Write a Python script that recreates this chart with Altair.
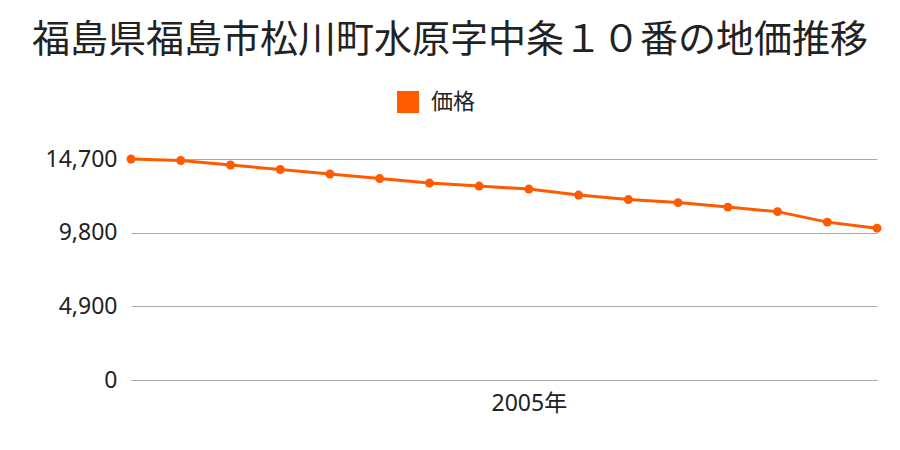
import altair as alt
import pandas as pd

years = list(range(1997, 2013))
prices = [14700, 14600, 14300, 14000, 13700, 13400, 13100, 12900,
          12700, 12300, 12000, 11800, 11500, 11200, 10500, 10100]
series = ["価格"] * len(years)
y_ticks = [0, 4900, 9800, 14700]
x_labels = [2005]

df = pd.DataFrame({"year": years, "price": prices, "series": series})

FONT = "Noto Sans, Noto Sans CJK JP"

color = alt.Color("series:N", scale=alt.Scale(domain=["価格"], range=["#ff5a00"]),
                  legend=alt.Legend(title=None, orient="none", legendX=266, legendY=-68,
                                    symbolType="square", symbolSize=484, labelFontSize=22,
                                    labelFont="Noto Sans CJK JP", symbolOpacity=1,
                                    labelColor="#222", symbolStrokeWidth=0, labelOffset=12))

x = alt.X("year:Q", scale=alt.Scale(domain=[1997, 2012], nice=False, zero=False),
          axis=alt.Axis(values=x_labels, labelExpr="datum.value + '年'", title=None,
                        grid=False, ticks=False, domain=True, domainColor="#aaaaaa",
                        labelFontSize=23, labelFont=FONT, labelColor="#222",
                        labelPadding=12))
y = alt.Y("price:Q", scale=alt.Scale(domain=[0, 14700], nice=False),
          axis=alt.Axis(values=y_ticks, format=",.0f", title=None, grid=True,
                        gridColor="#aaaaaa", ticks=False, domain=False,
                        labelFontSize=23, labelFont=FONT, labelColor="#222",
                        labelPadding=14))

line = alt.Chart(df).mark_line(strokeWidth=3, color="#ff5a00").encode(x=x, y=y, color=color)
pts = alt.Chart(df).mark_point(filled=True, size=80, opacity=1, color="#ff5a00").encode(x=x, y=y, color=color)

chart = alt.layer(line, pts).properties(
    width=746, height=221,
    title=alt.TitleParams("福島県福島市松川町水原字中条１０番の地価推移",
                          fontSize=38, font="Noto Sans CJK JP", fontWeight="normal",
                          color="#222", anchor="middle", offset=31, frame="group", dx=-54),
    autosize=alt.AutoSizeParams(type="none"),
    padding={"left": 131, "top": 159, "right": 23, "bottom": 70},
    view=alt.ViewBackground(strokeWidth=0, strokeOpacity=0)
).configure_view(strokeWidth=0, strokeOpacity=0).configure(background="white")

chart.save("out.html", embed_options={"renderer": "svg", "actions": False})
